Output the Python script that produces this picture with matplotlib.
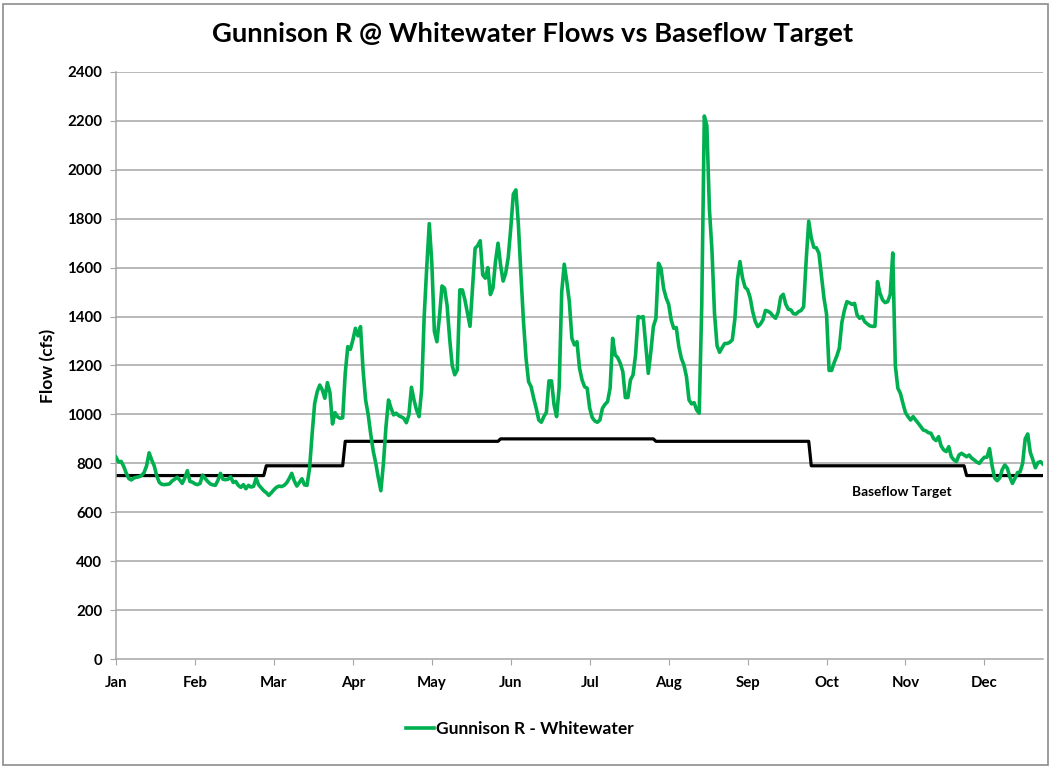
import numpy as np
import matplotlib
matplotlib.use("Agg")
import matplotlib.pyplot as plt
from matplotlib.patches import Rectangle

plt.rcParams['font.family'] = ['Lato', 'DejaVu Sans']

# Daily mean flow (cfs), Gunnison River at Whitewater, one list per month
jan = [825, 805, 808, 788, 760, 738, 732, 740, 743, 745, 750, 762, 790, 843, 814, 790, 748,
       722, 714, 713, 714, 716, 728, 735, 743, 732, 718, 740, 770, 726, 723]
feb = [716, 713, 718, 752, 738, 726, 716, 712, 710, 730, 759, 735, 733, 735, 745, 722, 726,
       710, 702, 713, 696, 710, 703, 706, 739, 712, 700, 688]
mar = [680, 669, 680, 692, 702, 707, 705, 710, 720, 738, 759, 728, 707, 722, 737, 712, 710,
       780, 920, 1045, 1093, 1120, 1100, 1066, 1130, 1089, 961, 1007, 990, 984, 986]
apr = [1168, 1277, 1266, 1304, 1352, 1321, 1359, 1182, 1059, 1000, 920, 850, 800, 740, 688,
       800, 950, 1059, 1025, 998, 1005, 995, 990, 984, 966, 998, 1111, 1059, 1018, 991]
may = [1100, 1400, 1600, 1780, 1620, 1340, 1297, 1400, 1525, 1516, 1445, 1310, 1200, 1162,
       1182, 1509, 1509, 1468, 1415, 1360, 1520, 1679, 1690, 1710, 1570, 1557, 1600, 1490,
       1516, 1625, 1700]
jun = [1611, 1545, 1577, 1641, 1761, 1900, 1918, 1775, 1570, 1379, 1229, 1134, 1113, 1066,
       1025, 977, 968, 991, 1009, 1137, 1137, 1039, 991, 1110, 1500, 1614, 1543, 1461, 1311,
       1284]
jul = [1297, 1189, 1141, 1113, 1107, 1025, 987, 973, 968, 977, 1025, 1041, 1052, 1107, 1311,
       1243, 1232, 1209, 1175, 1069, 1069, 1141, 1161, 1243, 1400, 1396, 1400, 1284, 1168,
       1256, 1359]
aug = [1393, 1618, 1597, 1516, 1477, 1450, 1386, 1352, 1355, 1277, 1229, 1202, 1154, 1059,
       1043, 1048, 1018, 1005, 1450, 2220, 2180, 1840, 1672, 1413, 1281, 1254, 1273, 1290,
       1290, 1295, 1305]
sep = [1390, 1550, 1625, 1558, 1520, 1510, 1477, 1420, 1380, 1359, 1369, 1386, 1425, 1422,
       1415, 1402, 1393, 1418, 1480, 1491, 1450, 1430, 1427, 1412, 1410, 1420, 1425, 1440,
       1630, 1790]
oct_ = [1722, 1683, 1681, 1659, 1566, 1475, 1410, 1180, 1180, 1212, 1238, 1270, 1375, 1425,
        1461, 1456, 1450, 1454, 1406, 1393, 1400, 1379, 1370, 1362, 1360, 1360, 1543, 1495,
        1468, 1457, 1461]
nov = [1490, 1660, 1200, 1107, 1086, 1045, 1007, 991, 977, 991, 977, 964, 950, 936, 933, 925,
       923, 902, 893, 909, 871, 855, 848, 868, 827, 814, 807, 834, 841, 834]
dec = [827, 834, 821, 814, 805, 800, 814, 825, 825, 860, 790, 740, 729, 740, 775, 793, 780,
       743, 718, 739, 762, 765, 800, 900, 920, 845, 815, 782, 803, 807, 797]

flow = jan + feb + mar + apr + may + jun + jul + aug + sep + oct_ + nov + dec

# Baseflow target (cfs) by month
month_names = ['Jan', 'Feb', 'Mar', 'Apr', 'May', 'Jun',
               'Jul', 'Aug', 'Sep', 'Oct', 'Nov', 'Dec']
month_days = [31, 28, 31, 30, 31, 30, 31, 31, 30, 31, 30, 31]
target_cfs = [750, 750, 790, 890, 890, 900, 900, 890, 890, 790, 790, 750]

target = np.repeat(target_cfs, month_days)
days = np.arange(len(flow))

green = '#00B050'
grid_gray = '#a6a6a6'

fig = plt.figure(figsize=(10.51, 7.68), dpi=100)
ax = fig.add_axes([0.1104, 0.1419, 0.8820, 0.7644])

for v in range(200, 2401, 200):
    ax.axhline(v, color=grid_gray, lw=1.1, zorder=1)

ax.plot(days, target, color='black', lw=2.3, zorder=2)
ax.plot(days, flow, color=green, lw=2.6, zorder=3, label='Gunnison R - Whitewater')

ax.set_xlim(0, len(flow) - 1)
ax.set_ylim(0, 2400)
ax.set_yticks(range(0, 2401, 200))
ax.set_xticks(np.arange(0, len(flow), 31)[:12])
ax.set_xticklabels(month_names)

for lab in ax.get_xticklabels() + ax.get_yticklabels():
    lab.set_fontweight('bold')
    lab.set_fontsize(10.8)

ax.tick_params(axis='x', direction='out', length=4, color=grid_gray, pad=8)
ax.tick_params(axis='y', direction='out', length=4, color=grid_gray, pad=6)
for side in ('top', 'right'):
    ax.spines[side].set_visible(False)
for side in ('left', 'bottom'):
    ax.spines[side].set_color(grid_gray)
    ax.spines[side].set_linewidth(1.1)

ax.set_ylabel('Flow (cfs)', fontsize=12.5, fontweight='bold', labelpad=8)

ax.text(852 / 1051, 1 - 492 / 768, 'Baseflow Target', transform=fig.transFigure,
        fontsize=9.8, fontweight='bold', ha='left', va='center')

fig.text(533 / 1051, 1 - 34 / 768, 'Gunnison R @ Whitewater Flows vs Baseflow Target',
         ha='center', va='center', fontsize=19.7, fontweight='bold')

leg = fig.legend(loc='center', bbox_to_anchor=(520 / 1051, 1 - 729 / 768), frameon=False,
                 prop={'weight': 'bold', 'size': 12.5}, handlelength=1.6,
                 handletextpad=0.1)

fig.patches.append(Rectangle((3 / 1051, 3 / 768), 1 - 6 / 1051, 1 - 7 / 768,
                             transform=fig.transFigure, fill=False,
                             edgecolor='#8c8c8c', lw=1.2))

fig.savefig('out.png', dpi=100)
